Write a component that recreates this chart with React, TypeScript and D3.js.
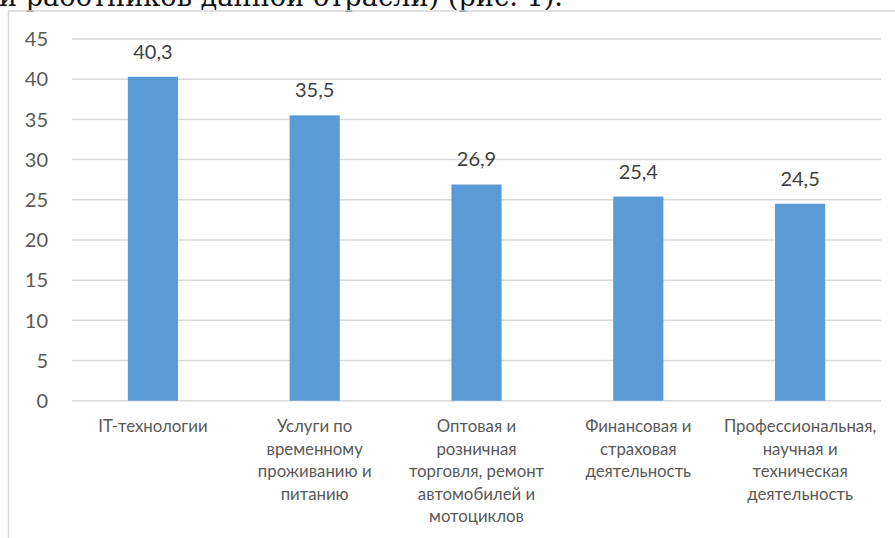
import * as React from "react";
import * as d3 from "d3";

const categories: string[][] = [
    ["IT-технологии"],
    ["Услуги по", "временному", "проживанию и", "питанию"],
    ["Оптовая и", "розничная", "торговля, ремонт", "автомобилей и", "мотоциклов"],
    ["Финансовая и", "страховая", "деятельность"],
    ["Профессиональная,", "научная и", "техническая", "деятельность"],
];
const values = [40.3, 35.5, 26.9, 25.4, 24.5];
const yTicks = [0, 5, 10, 15, 20, 25, 30, 35, 40, 45];
const captionText = "и работников данной отрасли) (рис. 1).";

const width = 895;
const height = 538;
const chartFont = "Lato, 'Open Sans', sans-serif";

export default function App() {
    const keys = categories.map((_c, i) => String(i));

    const xScale = d3.scaleBand<string>().domain(keys).range([72, 881]).paddingInner(0.69).paddingOuter(0.345);
    const yScale = d3.scaleLinear().domain([0, 45]).range([400.7, 39]);

    const fmt = (v: number) => v.toFixed(1).replace(".", ",");

    return <svg width={width} height={height} style={{ position: "absolute", left: 0, top: 0, background: "#fff" }}>
        {/* cut-off text line from the page above */}
        <text x={563} y={6} textAnchor="end" fontFamily="'DejaVu Serif', serif" fontSize={27.2} fill="#111">{captionText}</text>

        {/* chart frame */}
        <line x1={8.5} y1={11} x2={8.5} y2={height} stroke="#d9d9d9" strokeWidth={1.5}></line>
        <line x1={8} y1={11} x2={width} y2={11} stroke="#d9d9d9" strokeWidth={1.5}></line>

        {yTicks.map(t => <g key={t}>
            <line x1={72} x2={881} y1={yScale(t)} y2={yScale(t)} stroke="#d9d9d9" strokeWidth={1.5}></line>
            <text x={48} y={yScale(t)} dy="0.36em" textAnchor="end" fontFamily={chartFont} fontSize={20} fill="#595959">{t}</text>
        </g>)}

        {values.map((v, i) => <g key={i}>
            <rect x={xScale(String(i))} y={yScale(v)} width={xScale.bandwidth()} height={yScale(0) - yScale(v)} fill="#5b9bd5"></rect>
            <text x={(xScale(String(i)) || 0) + xScale.bandwidth() / 2} y={yScale(v) - 18} textAnchor="middle" fontFamily={chartFont} fontSize={20} fill="#404040">{fmt(v)}</text>
        </g>)}

        {categories.map((lines, i) => {
            const cx = (xScale(String(i)) || 0) + xScale.bandwidth() / 2;
            return <text key={i} textAnchor="middle" fontFamily={chartFont} fontSize={16.8} fill="#595959">
                {lines.map((l, j) => <tspan key={j} x={cx} y={432 + j * 22.6}>{l}</tspan>)}
            </text>;
        })}
    </svg>;
}
